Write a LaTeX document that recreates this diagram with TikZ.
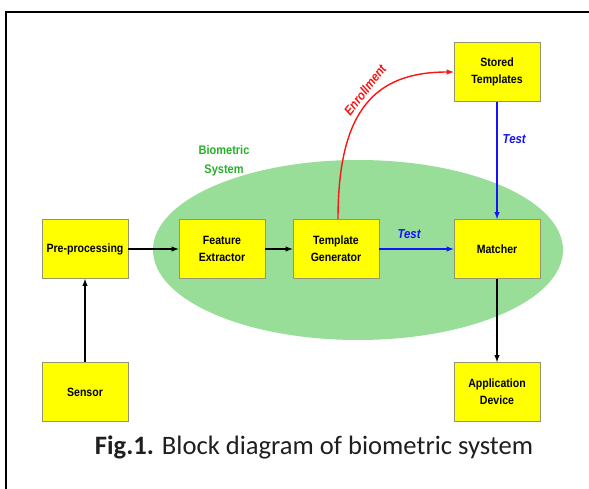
\documentclass[tikz,border=0pt]{standalone}
\usepackage{fontspec}
\setmainfont{Liberation Sans}
\newfontfamily\blockfont[FakeStretch=0.88]{Liberation Sans}
\newfontfamily\capfont{Carlito}
\usetikzlibrary{arrows,arrows.meta}
\usetikzlibrary{calc,positioning}
\definecolor{boxcol}{RGB}{255,255,0}
\definecolor{boxline}{RGB}{150,150,110}
\definecolor{syscol}{RGB}{152,221,152}
\definecolor{systext}{RGB}{40,175,40}
\definecolor{testcol}{RGB}{20,20,250}
\definecolor{enrolcol}{RGB}{250,20,20}
\tikzset{>=latex}
\tikzstyle{block} = [draw=boxline, line width=0.8, fill=boxcol,
                     minimum width=86, minimum height=59, inner sep=1,
                     align=center, font=\blockfont\fontsize{12}{17}\selectfont\bfseries]
\tikzstyle{flow}  = [line width=1.4, ->]
\tikzstyle{tag}   = [font=\blockfont\fontsize{13}{14}\selectfont\bfseries\itshape, inner sep=0]

\begin{document}
\begin{tikzpicture}[x=1pt,y=-1pt]
  \useasboundingbox (0,0) rectangle (589,489);
  % FRAME
  \draw[line width=1.6] (6,489) -- (6,12) -- (589,12);

  % SYSTEM
  \fill[syscol] (358,250) ellipse [x radius=205, y radius=90];
  \node[systext, align=center, inner sep=0,
        font=\blockfont\fontsize{12.5}{19}\selectfont\bfseries] (sys) at (224,161)
    {Biometric\\System};

  % BLOCKS
  \node[block] (pre)   at (85,249)  {Pre-processing};
  \node[block] (sens)  at (85,392)  {Sensor};
  \node[block] (feat)  at (222,249) {Feature\\Extractor};
  \node[block] (tgen)  at (336,249) {Template\\Generator};
  \node[block] (match) at (497,249) {Matcher};
  \node[block] (store) at (497,72)  {Stored\\Templates};
  \node[block] (app)   at (497,392) {Application\\Device};

  % CONNECTIONS
  \draw[flow] (sens) -- (pre);
  \draw[flow] (pre) -- (feat);
  \draw[flow] (feat) -- (tgen);
  \draw[flow] (match) -- (app);
  \draw[flow, testcol] (tgen) -- node[tag, above=10pt, pos=0.4] (t1) {Test} (match);
  \draw[flow, testcol] (store) -- node[tag, right=5pt, pos=0.32] (t2) {Test} (match);
  \draw[flow, enrolcol] (tgen.north -| 338,0) .. controls (338,110) and (375,72) .. (store.west);
  \node[tag, enrolcol, rotate=52] (enrol) at (365,90) {Enrollment};

  % CAPTION
  \node[font=\capfont\fontsize{26.6}{28}\selectfont, text=black!88] (cap) at (314,447)
    {\textbf{Fig.1.} Block diagram of biometric system};
\end{tikzpicture}
\end{document}
